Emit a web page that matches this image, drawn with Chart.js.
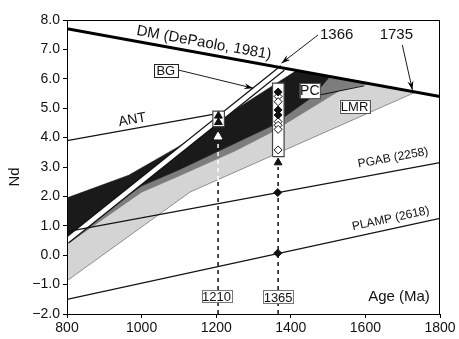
<!DOCTYPE html>
<html>
<head>
<meta charset="utf-8">
<script src="https://cdn.jsdelivr.net/npm/chart.js@4.4.1/dist/chart.umd.min.js"></script>
<style>
  html, body { margin: 0; padding: 0; background: #fff; }
</style>
</head>
<body>
<canvas id="chart" width="459" height="339"></canvas>
<script>
// ---- data (age in Ma, epsilon Nd) ----
const xTicks = [800, 1000, 1200, 1400, 1600, 1800];
const yTicks = [-2, -1, 0, 1, 2, 3, 4, 5, 6, 7, 8];

const dmAge = [800, 1800];
const dmNd = [7.7, 5.4];
const antAge = [800, 1195];
const antNd = [3.9, 4.8];
const pgabAge = [800, 1800];
const pgabNd = [0.8, 3.15];
const plampAge = [800, 1800];
const plampNd = [-1.5, 1.25];
const stripeAge = [800, 1378];
const stripeNd = [0.5, 6.37];

// evolution bands (closed outlines)
const lightAge = [800, 1130, 1735, 1609, 1530, 1350, 1250, 1100, 1000, 800, 800];
const lightNd = [-0.87, 2.15, 5.55, 5.84, 5.6, 4.2, 3.55, 2.7, 2.15, 0.38, -0.87];
const darkAge = [800, 1000, 1100, 1250, 1350, 1530, 1609, 1505, 1460, 1350, 1250, 1100, 1000, 800, 800];
const darkNd = [0.38, 2.15, 2.7, 3.55, 4.2, 5.6, 5.84, 6.08, 5.4, 4.4, 3.8, 2.9, 2.35, 0.6, 0.38];
const blackAge = [800, 965, 1100, 1236, 1415, 1505, 1460, 1350, 1250, 1100, 1000, 800, 800];
const blackNd = [1.95, 2.72, 3.7, 4.83, 6.28, 6.08, 5.4, 4.4, 3.8, 2.9, 2.35, 0.6, 1.95];

// sample boxes and symbols
const bgBoxAge = [1191, 1222];
const bgBoxNd = [4.37, 4.9];
const bgTriAge = [1206, 1206];
const bgTriNd = [4.74, 4.52];
const pcBoxAge = [1351, 1382];
const pcBoxNd = [3.35, 5.85];
const pcFilledNd = [5.55, 4.94, 4.77];
const pcOpenNd = [5.4, 5.22, 4.54, 4.42, 4.28, 3.58];
const pcAge = 1366;
const mantleAge = [1365, 1365];
const mantleNd = [2.13, 0.07];

// dashed age markers
const dash1210Age = [1205, 1205];
const dash1210LowNd = [-2, 2.56];
const dash1210HighNd = [2.56, 3.85];
const arrow1210Nd = 4.03;
const dash1365Age = [1366, 1366];
const dash1365Nd = [-2, 3.0];
const arrow1365Nd = 3.15;

const FONT = '"Liberation Sans", Arial, sans-serif';

function pts(xs, ys) {
    return xs.map((x, i) => ({ x: x, y: ys[i] }));
}
function rect(xs, ys) {
    return pts([xs[0], xs[1], xs[1], xs[0], xs[0]], [ys[0], ys[0], ys[1], ys[1], ys[0]]);
}
function line(data, color, width, order, extra) {
    return Object.assign({ data: data, borderColor: color, borderWidth: width, pointRadius: 0, fill: false, order: order }, extra || {});
}

// labels and leader lines (positions in data units)
const notes = {
    boxed: [
        { text: 'BG', x: 1065, y: 6.27, w: 24, h: 13, size: 13, stroke: '#222' },
        { text: 'PC', x: 1451, y: 5.6, w: 20, h: 15, size: 14, stroke: '#555' },
        { text: 'LMR', x: 1571, y: 5.05, w: 30, h: 13, size: 13, stroke: '#555' },
        { text: '1210', x: 1201, y: -1.4, w: 30, h: 12, size: 13, stroke: '#777' },
        { text: '1365', x: 1366, y: -1.42, w: 30, h: 13, size: 13, stroke: '#777' }
    ],
    plain: [
        { text: 'DM (DePaolo, 1981)', x: 1167, y: 7.22, size: 15, angle: 10.3 },
        { text: 'ANT', x: 975, y: 4.6, size: 14, angle: -10 },
        { text: 'PGAB (2258)', x: 1674, y: 3.31, size: 12, angle: -10.4 },
        { text: 'PLAMP (2618)', x: 1668, y: 1.24, size: 12, angle: -12.2 },
        { text: '1366', x: 1523, y: 7.49, size: 15, angle: 0 },
        { text: '1735', x: 1683, y: 7.49, size: 15, angle: 0 },
        { text: 'Age (Ma)', x: 1690, y: -1.4, size: 15, angle: 0 }
    ],
    leaders: [
        { from: [1098, 6.3], to: [1299, 5.68], head: true },
        { from: [1473, 7.49], to: [1375, 6.53], head: true },
        { from: [1699, 7.15], to: [1726, 5.62], head: true },
        { from: [1477, 5.45], to: [1597, 5.76], head: false }
    ]
};

const notesPlugin = {
    id: 'notes',
    afterDraw(chart) {
        const { ctx, chartArea } = chart;
        const sx = chart.scales.x, sy = chart.scales.y;
        const px = v => sx.getPixelForValue(v);
        const py = v => sy.getPixelForValue(v);
        ctx.save();
        // frame top and right
        ctx.strokeStyle = '#000';
        ctx.lineWidth = 1;
        ctx.strokeRect(chartArea.left + 0.5, chartArea.top + 0.5, chartArea.right - chartArea.left - 1, chartArea.bottom - chartArea.top);

        // leader lines
        notes.leaders.forEach(l => {
            const x1 = px(l.from[0]), y1 = py(l.from[1]), x2 = px(l.to[0]), y2 = py(l.to[1]);
            ctx.beginPath();
            ctx.moveTo(x1, y1);
            ctx.lineTo(x2, y2);
            ctx.lineWidth = 0.9;
            ctx.strokeStyle = '#000';
            ctx.stroke();
            if (l.head) {
                const a = Math.atan2(y2 - y1, x2 - x1);
                ctx.beginPath();
                ctx.moveTo(x2, y2);
                ctx.lineTo(x2 - 9 * Math.cos(a) + 3 * Math.sin(a), y2 - 9 * Math.sin(a) - 3 * Math.cos(a));
                ctx.lineTo(x2 - 6 * Math.cos(a), y2 - 6 * Math.sin(a));
                ctx.lineTo(x2 - 9 * Math.cos(a) - 3 * Math.sin(a), y2 - 9 * Math.sin(a) + 3 * Math.cos(a));
                ctx.closePath();
                ctx.fillStyle = '#000';
                ctx.fill();
            }
        });

        ctx.textAlign = 'center';
        ctx.textBaseline = 'middle';
        notes.boxed.forEach(b => {
            const cx = px(b.x), cy = py(b.y);
            ctx.fillStyle = '#fff';
            ctx.fillRect(cx - b.w / 2, cy - b.h / 2, b.w, b.h);
            ctx.strokeStyle = b.stroke;
            ctx.lineWidth = 1;
            ctx.strokeRect(Math.round(cx - b.w / 2) + 0.5, Math.round(cy - b.h / 2) + 0.5, b.w, b.h);
            ctx.fillStyle = '#111';
            ctx.font = b.size + 'px ' + FONT;
            ctx.fillText(b.text, cx, cy + 1);
        });
        notes.plain.forEach(t => {
            ctx.save();
            ctx.translate(px(t.x), py(t.y));
            ctx.rotate(t.angle * Math.PI / 180);
            ctx.fillStyle = '#111';
            ctx.font = t.size + 'px ' + FONT;
            ctx.fillText(t.text, 0, 0);
            ctx.restore();
        });
        // y axis title
        ctx.save();
        ctx.translate(15, 177);
        ctx.rotate(-Math.PI / 2);
        ctx.font = '15px ' + FONT;
        ctx.fillStyle = '#111';
        ctx.fillText('Nd', 0, 0);
        ctx.restore();
        ctx.restore();
    }
};

const datasets = [
    // bands
    line(pts(lightAge, lightNd), '#8e8e8e', 1, 20, { fill: 'shape', backgroundColor: '#d4d4d4' }),
    line(pts(darkAge, darkNd), '#7d7d7d', 0.5, 19, { fill: 'shape', backgroundColor: '#7d7d7d' }),
    line(pts(blackAge, blackNd), '#1a1a1a', 0.5, 18, { fill: 'shape', backgroundColor: '#1a1a1a' }),
    // white stripe with black edges
    line(pts(stripeAge, stripeNd), '#111', 7, 17),
    line(pts(stripeAge, stripeNd), '#fff', 4.5, 16),
    // evolution lines
    line(pts(pgabAge, pgabNd), '#111', 1.2, 15),
    line(pts(plampAge, plampNd), '#111', 1.2, 15),
    line(pts(antAge, antNd), '#111', 1.2, 15),
    line(pts(dmAge, dmNd), '#000', 3, 14),
    // dashed age markers
    line(pts(dash1210Age, dash1210LowNd), '#111', 1.5, 12, { borderDash: [4, 4] }),
    line(pts(dash1210Age, dash1210HighNd), '#fff', 1.5, 12, { borderDash: [4, 4] }),
    line(pts(dash1365Age, dash1365Nd), '#111', 1.5, 12, { borderDash: [4, 4] }),
    line([{ x: dash1210Age[0], y: arrow1210Nd }], '#fff', 1, 11, { showLine: false, pointStyle: 'triangle', pointRadius: 4.5, pointBackgroundColor: '#fff', pointBorderColor: '#fff' }),
    line([{ x: dash1365Age[0], y: arrow1365Nd }], '#111', 1, 11, { showLine: false, pointStyle: 'triangle', pointRadius: 4.5, pointBackgroundColor: '#111', pointBorderColor: '#111' }),
    // sample boxes
    line(rect(bgBoxAge, bgBoxNd), '#444', 1.2, 10, { fill: 'shape', backgroundColor: '#fff' }),
    line(rect(pcBoxAge, pcBoxNd), '#444', 1.2, 10, { fill: 'shape', backgroundColor: '#fff' }),
    line(pts(bgTriAge, bgTriNd), '#111', 1, 9, { showLine: false, pointStyle: 'triangle', pointRadius: 4.5, pointBackgroundColor: '#111', pointBorderColor: '#111' }),
    line(pts(pcOpenNd.map(() => pcAge), pcOpenNd), '#111', 1, 9, { showLine: false, pointStyle: 'rectRot', pointRadius: 4, pointBackgroundColor: '#fff', pointBorderColor: '#111', pointBorderWidth: 1 }),
    line(pts(pcFilledNd.map(() => pcAge), pcFilledNd), '#111', 1, 8, { showLine: false, pointStyle: 'rectRot', pointRadius: 4, pointBackgroundColor: '#111', pointBorderColor: '#111', pointBorderWidth: 1 }),
    line(pts(mantleAge, mantleNd), '#111', 1, 8, { showLine: false, pointStyle: 'rectRot', pointRadius: 4, pointBackgroundColor: '#111', pointBorderColor: '#111' })
];

new Chart(document.getElementById('chart').getContext('2d'), {
    type: 'line',
    data: { datasets: datasets },
    options: {
        responsive: false,
        animation: false,
        layout: { padding: { top: 20, right: 19, left: 0, bottom: 0 } },
        plugins: { legend: { display: false }, tooltip: { enabled: false } },
        elements: { line: { tension: 0 } },
        scales: {
            x: {
                type: 'linear',
                min: 800, max: 1800,
                afterBuildTicks: s => { s.ticks = xTicks.map(v => ({ value: v })); },
                afterFit: s => { s.height = 25; },
                ticks: { color: '#111', font: { family: FONT, size: 14 }, padding: 2, maxRotation: 0, callback: v => String(v) },
                grid: { drawOnChartArea: false, tickLength: 4, color: '#000' },
                border: { color: '#000', width: 1 }
            },
            y: {
                type: 'linear',
                min: -2, max: 8,
                afterBuildTicks: s => { s.ticks = yTicks.map(v => ({ value: v })); },
                afterFit: s => { s.width = 67; },
                ticks: { color: '#111', font: { family: FONT, size: 14 }, padding: 3, callback: v => v.toFixed(1).replace('-', '\u2212') },
                grid: { drawOnChartArea: false, tickLength: 4, color: '#000' },
                border: { color: '#000', width: 1 }
            }
        }
    },
    plugins: [notesPlugin]
});
</script>
</body>
</html>
